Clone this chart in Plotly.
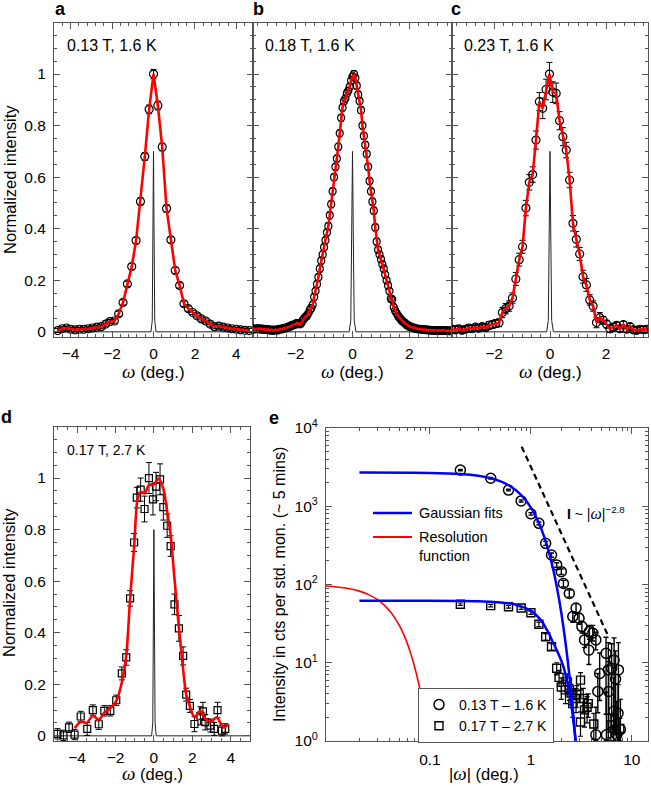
import plotly.graph_objects as go

W, H = 651, 786
def px(x): return x / W
def py(y): return 1 - y / H

FONT = "Liberation Sans, Arial, sans-serif"
AX = "#555555"

# ---------------- panel a (0.13 T, 1.6 K) ----------------
a_x = [-4.62, -4.41, -4.20, -3.99, -3.78, -3.57, -3.36, -3.15, -2.94, -2.73, -2.52, -2.31, -2.10, -1.89, -1.68,
       -1.47, -1.26, -1.05, -0.84, -0.63, -0.42, -0.21, 0.0, 0.21, 0.42, 0.63, 0.84, 1.05, 1.26, 1.47,
       1.68, 1.89, 2.10, 2.31, 2.52, 2.73, 2.94, 3.15, 3.36, 3.57, 3.78, 3.99, 4.20, 4.41, 4.62]
a_y = [0.005, 0.012, 0.015, 0.010, 0.008, 0.010, 0.010, 0.012, 0.015, 0.018, 0.020, 0.030, 0.040, 0.042, 0.070,
       0.114, 0.186, 0.253, 0.354, 0.506, 0.680, 0.863, 1.000, 0.878, 0.717, 0.478, 0.357, 0.238, 0.180, 0.109,
       0.090, 0.075, 0.062, 0.050, 0.042, 0.030, 0.020, 0.022, 0.018, 0.015, 0.012, 0.010, 0.008, 0.006, 0.005]
a_err = [0.008, 0.008, 0.008, 0.008, 0.008, 0.008, 0.008, 0.008, 0.008, 0.008, 0.008, 0.008, 0.008, 0.008, 0.010,
         0.010, 0.010, 0.012, 0.012, 0.014, 0.015, 0.017, 0.018, 0.017, 0.015, 0.014, 0.012, 0.012, 0.010, 0.010,
         0.010, 0.008, 0.008, 0.008, 0.008, 0.008, 0.008, 0.008, 0.008, 0.008, 0.008, 0.008, 0.008, 0.008, 0.008]

# ---------------- panel b (0.18 T, 1.6 K) ----------------
b_x = [-3.50, -3.45, -3.40, -3.35, -3.30, -3.25, -3.20, -3.15, -3.10, -3.05,
       -3.00, -2.95, -2.90, -2.85, -2.80, -2.75, -2.70, -2.65, -2.60, -2.55,
       -2.50, -2.45, -2.40, -2.35, -2.30, -2.25, -2.20, -2.15, -2.10, -2.05,
       -2.00, -1.95, -1.90, -1.85, -1.80, -1.75, -1.70, -1.65, -1.60, -1.55,
       -1.50, -1.45, -1.40, -1.35, -1.30, -1.25, -1.20, -1.15, -1.10, -1.05,
       -1.00, -0.95, -0.90, -0.85, -0.80, -0.75, -0.70, -0.65, -0.60, -0.55,
       -0.50, -0.45, -0.40, -0.35, -0.30, -0.25, -0.20, -0.15, -0.10, -0.05,
       0.00,
       0.05, 0.10, 0.15, 0.20, 0.25, 0.30, 0.35, 0.40, 0.45, 0.50,
       0.55, 0.60, 0.65, 0.70, 0.75, 0.80, 0.85, 0.90, 0.95, 1.00,
       1.05, 1.10, 1.15, 1.20, 1.25, 1.30, 1.35, 1.40, 1.45, 1.50,
       1.55, 1.60, 1.65, 1.70, 1.75, 1.80, 1.85, 1.90, 1.95, 2.00,
       2.05, 2.10, 2.15, 2.20, 2.25, 2.30, 2.35, 2.40, 2.45, 2.50,
       2.55, 2.60, 2.65, 2.70, 2.75, 2.80, 2.85, 2.90, 2.95, 3.00,
       3.05, 3.10, 3.15, 3.20, 3.25, 3.30, 3.35, 3.40, 3.45, 3.50]
b_y = [0.012, 0.010, 0.012, 0.011, 0.013, 0.010, 0.012, 0.009, 0.011, 0.008,
       0.010, 0.008, 0.006, 0.008, 0.005, 0.007, 0.008, 0.006, 0.009, 0.011,
       0.010, 0.013, 0.015, 0.014, 0.017, 0.019, 0.021, 0.024, 0.026, 0.028,
       0.030, 0.034, 0.032, 0.030, 0.034, 0.045, 0.052, 0.058, 0.063, 0.072,
       0.085, 0.092, 0.105, 0.135, 0.158, 0.185, 0.212, 0.245, 0.276, 0.300,
       0.328, 0.355, 0.385, 0.410, 0.452, 0.495, 0.545, 0.600, 0.640, 0.672,
       0.718, 0.770, 0.830, 0.870, 0.895, 0.905, 0.925, 0.935, 0.950, 0.975,
       0.990,
       1.000, 0.985, 0.955, 0.920, 0.895, 0.860, 0.800, 0.760, 0.725, 0.690,
       0.640, 0.585, 0.545, 0.505, 0.470, 0.405, 0.350, 0.318, 0.300, 0.282,
       0.262, 0.245, 0.222, 0.200, 0.180, 0.158, 0.128, 0.125, 0.095, 0.082,
       0.072, 0.062, 0.055, 0.048, 0.042, 0.038, 0.033, 0.028, 0.025, 0.021,
       0.019, 0.017, 0.015, 0.013, 0.012, 0.011, 0.010, 0.011, 0.009, 0.008,
       0.009, 0.007, 0.008, 0.006, 0.007, 0.006, 0.005, 0.006, 0.005, 0.006,
       0.004, 0.005, 0.006, 0.004, 0.005, 0.004, 0.005, 0.003, 0.004, 0.005]
b_err = 0.014

# ---------------- panel c (0.23 T, 1.6 K) ----------------
c_x = [-3.50, -3.38, -3.26, -3.14, -3.02, -2.90, -2.78, -2.66, -2.54, -2.42, -2.30, -2.18, -2.06, -1.94, -1.82,
       -1.70, -1.58, -1.46, -1.34, -1.22, -1.10, -0.98, -0.86, -0.74, -0.62, -0.50, -0.38, -0.26, -0.14, -0.02,
       0.10, 0.22, 0.34, 0.46, 0.58, 0.70, 0.82, 0.94, 1.06, 1.18, 1.30, 1.42, 1.54, 1.66, 1.78,
       1.90, 2.02, 2.14, 2.26, 2.38, 2.50, 2.62, 2.74, 2.86, 2.98, 3.10, 3.22, 3.34, 3.46]
c_y = [0.010, 0.008, 0.012, 0.006, 0.010, 0.015, 0.012, 0.018, 0.014, 0.020, 0.016, 0.025, 0.028, 0.032, 0.035,
       0.075, 0.090, 0.100, 0.131, 0.205, 0.280, 0.330, 0.480, 0.580, 0.610, 0.744, 0.893, 0.867, 0.940, 1.000,
       0.930, 0.925, 0.819, 0.757, 0.705, 0.589, 0.421, 0.359, 0.302, 0.214, 0.182, 0.124, 0.100, 0.036, 0.055,
       0.045, 0.030, 0.012, 0.018, 0.025, 0.012, 0.028, 0.010, 0.020, 0.008, 0.006, 0.010, 0.008, 0.010]
c_err = [0.012, 0.012, 0.012, 0.012, 0.012, 0.012, 0.012, 0.012, 0.012, 0.012, 0.012, 0.015, 0.015, 0.015, 0.015,
         0.020, 0.020, 0.020, 0.020, 0.025, 0.025, 0.025, 0.030, 0.030, 0.030, 0.035, 0.035, 0.040, 0.040, 0.045,
         0.040, 0.040, 0.035, 0.035, 0.030, 0.030, 0.030, 0.030, 0.025, 0.025, 0.025, 0.020, 0.020, 0.020, 0.020,
         0.015, 0.015, 0.015, 0.015, 0.012, 0.012, 0.012, 0.012, 0.012, 0.012, 0.012, 0.012, 0.012, 0.012]

# ---------------- panel d (0.17 T, 2.7 K) ----------------
d_x = [-5.02, -4.71, -4.42, -4.13, -3.81, -3.47, -3.18, -2.87, -2.58, -2.27, -1.96, -1.67, -1.44, -1.24, -1.03,
       -0.89, -0.69, -0.49, -0.26, -0.05, 0.11, 0.32, 0.49, 0.69, 0.87, 1.07, 1.30, 1.52, 1.68, 1.87,
       2.11, 2.42, 2.55, 2.67, 2.94, 3.14, 3.31, 3.54, 3.71]
d_y = [0.008, 0.002, 0.033, 0.005, 0.075, 0.027, 0.100, 0.045, 0.097, 0.097, 0.138, 0.242, 0.304, 0.533, 0.750,
       0.924, 0.955, 0.880, 1.000, 0.917, 0.967, 0.995, 0.887, 0.815, 0.736, 0.510, 0.417, 0.310, 0.160, 0.116,
       0.046, 0.078, 0.095, 0.053, 0.040, 0.027, 0.100, 0.020, 0.027]
d_err = [0.020, 0.020, 0.020, 0.020, 0.020, 0.025, 0.020, 0.020, 0.020, 0.020, 0.020, 0.025, 0.030, 0.030, 0.035,
         0.040, 0.045, 0.050, 0.060, 0.060, 0.055, 0.060, 0.050, 0.045, 0.040, 0.040, 0.050, 0.035, 0.025, 0.025,
         0.030, 0.035, 0.035, 0.030, 0.025, 0.025, 0.030, 0.020, 0.020]
d_fit_x = [-4.12, -3.81, -3.50, -3.18, -2.87, -2.58, -2.27, -1.96, -1.67, -1.44, -1.24, -1.03, -0.86, -0.69, -0.49,
           -0.26, -0.05, 0.26, 0.50, 0.69, 0.87, 1.07, 1.30, 1.52, 1.68, 1.91, 2.11, 2.42, 2.67, 2.96,
           3.27, 3.61, 3.90]
d_fit_y = [0.030, 0.055, 0.050, 0.078, 0.062, 0.090, 0.108, 0.135, 0.207, 0.310, 0.530, 0.735, 0.915, 0.947, 0.940,
           0.973, 0.973, 0.998, 0.955, 0.870, 0.780, 0.610, 0.420, 0.258, 0.160, 0.105, 0.072, 0.097, 0.066, 0.055,
           0.072, 0.033, 0.045]

# resolution function (normalized panels)
res_x = [-6.0, -0.12, -0.06, -0.03, 0.0, 0.03, 0.06, 0.12, 6.0]
res_y = [0.0, 0.0, 0.044, 0.35, 0.70, 0.35, 0.044, 0.0, 0.0]
res_d_y = [0.0, 0.0, 0.05, 0.40, 0.80, 0.40, 0.05, 0.0, 0.0]

# ---------------- panel e (log-log) ----------------
e_c_x = [0.2, 0.4, 0.6, 0.8, 1.0, 1.2, 1.4, 1.6, 1.8, 2.0, 2.1, 2.4, 2.6, 2.8, 3.0, 3.2, 3.4, 3.75, 3.8, 4.1,
         4.4, 4.4, 4.6, 4.8, 5.55, 5.6, 5.85, 5.9, 6.3, 6.67, 6.6, 6.9, 7.36, 7.3, 7.7, 7.1]
e_c_y = [2900, 2280, 1610, 1170, 800, 605, 336, 238, 178, 146, 103, 77, 39, 50, 37, 29, 19.6, 14.5, 25, 24,
         19.6, 1.2, 4.3, 7.3, 13.2, 1.2, 8.1, 4.3, 8.5, 10.8, 2.4, 6.2, 8.1, 2.26, 1.4, 1.2]
e_c_ep = [60, 50, 40, 35, 30, 25, 20, 15, 12, 12, 10, 8, 6, 7, 6, 5, 4, 7, 5, 6,
          5, 1.5, 3, 6, 8, 3, 10, 6, 9, 10, 4, 8, 10, 3, 2, 2]
e_c_em = [60, 50, 40, 35, 30, 25, 20, 15, 12, 12, 10, 8, 6, 7, 6, 5, 4, 5, 5, 5,
          5, 0.19, 2, 4, 11, 0.19, 7, 3, 7, 9.5, 1.4, 5, 7, 1.2, 0.4, 0.19]
e_s_x = [0.2, 0.4, 0.6, 0.8, 1.0, 1.2, 1.4, 1.6, 1.8, 1.9, 2.0, 2.2, 2.3, 2.4, 2.5, 2.6, 2.8, 2.85, 3.1, 3.1,
         3.3, 3.4, 3.6, 3.7, 4.2, 6.2, 7.0, 7.6]
e_s_y = [56, 53.7, 52, 50, 43.6, 31, 21.5, 16, 8.5, 6.5, 4.9, 4.5, 5.7, 4.5, 4.1, 3.0, 3.5, 3.9, 6.0, 1.75,
         3.5, 2.5, 2.7, 3.0, 1.65, 1.6, 1.4, 1.45]
e_s_err = [2, 2, 2, 2, 2, 2, 2, 1.5, 1.5, 1.5, 1.5, 1.5, 1.5, 1.2, 1.2, 1.0, 1.2, 1.2, 1.5, 0.6,
           1.2, 1.0, 1.0, 1.0, 0.6, 0.6, 0.5, 0.5]
fit_x = [0.02, 0.1, 0.2, 0.3, 0.4, 0.5, 0.6, 0.7, 0.8, 0.9, 1.0, 1.1, 1.2, 1.3, 1.4, 1.5, 1.6, 1.7, 1.8, 1.9,
         2.0, 2.1, 2.2, 2.3, 2.4, 2.5, 2.6, 2.7, 2.8]
fit_hi_y = [2690, 2662, 2581, 2452, 2281, 2079, 1856, 1623, 1391, 1167, 960, 773, 610, 471, 357, 264, 192, 137, 95, 65,
            43.5, 28.5, 18.3, 11.5, 7.1, 4.28, 2.53, 1.47, 0.83]
fit_lo_y = [62, 62, 61.5, 61, 60, 59, 57.5, 55.5, 52.5, 49.5, 46, 42, 37.5, 33, 28, 24, 20, 17, 14.5, 12.5,
            10.6, 8.9, 7.1, 5.5, 4.1, 3.0, 2.1, 1.4, 0.9]
res_e_x = [0.0093, 0.015, 0.02, 0.025, 0.03, 0.035, 0.04, 0.045, 0.05, 0.055, 0.06, 0.065, 0.07, 0.075, 0.08,
           0.085, 0.09, 0.095, 0.1]
res_e_y = [95.9, 89.6, 82.3, 73.7, 64.5, 55.0, 45.8, 37.2, 29.5, 22.9, 17.3, 12.7, 9.16, 6.43, 4.41,
           2.95, 1.92, 1.22, 0.76]
guide_x = [0.81, 5.77]
guide_y = [5770, 22.6]

fig = go.Figure()

def eb(arr, thick=1, width=3):
    return dict(type='data', array=arr, color='black', thickness=thick, width=width, visible=True)

def add_norm_panel(xa, ya, x, y, err, res_yv, fx=None, fy=None, symbol='circle-open', msize=8, spline=False):
    fig.add_trace(go.Scatter(x=res_x, y=res_yv, mode='lines', line=dict(color='#222222', width=1),
                             xaxis=xa, yaxis=ya, showlegend=False, hoverinfo='skip'))
    if isinstance(err, (int, float)):
        ey = dict(type='constant', value=err, color='black', thickness=1, width=2.5)
    else:
        ey = eb(err)
    fig.add_trace(go.Scatter(x=x, y=y, mode='markers', error_y=ey,
                             marker=dict(symbol=symbol, size=msize, color='black', line=dict(width=1.2, color='black')),
                             xaxis=xa, yaxis=ya, showlegend=False))
    lx = fx if fx is not None else x
    ly = fy if fy is not None else y
    fig.add_trace(go.Scatter(x=lx, y=ly, mode='lines',
                             line=dict(color='#ff0000', width=2.6, shape='spline' if spline else 'linear', smoothing=0.7),
                             xaxis=xa, yaxis=ya, showlegend=False))

add_norm_panel('x', 'y', a_x, a_y, a_err, res_y)
add_norm_panel('x2', 'y2', b_x, b_y, b_err, res_y, msize=7)
add_norm_panel('x3', 'y3', c_x, c_y, c_err, res_y)
add_norm_panel('x4', 'y4', d_x, d_y, d_err, res_d_y, fx=d_fit_x, fy=d_fit_y, symbol='square-open', msize=7, spline=True)

# panel e
fig.add_trace(go.Scatter(x=res_e_x, y=res_e_y, mode='lines', line=dict(color='#ff0000', width=1.6, shape='spline'),
                         xaxis='x5', yaxis='y5', showlegend=False))
fig.add_trace(go.Scatter(x=e_c_x, y=e_c_y, mode='markers', name='0.13 T \u2013 1.6 K',
                         error_y=dict(type='data', array=e_c_ep, arrayminus=e_c_em, color='black', thickness=1.4, width=2.5),
                         marker=dict(symbol='circle-open', size=10, color='black', line=dict(width=1.5, color='black')),
                         xaxis='x5', yaxis='y5', showlegend=True))
fig.add_trace(go.Scatter(x=e_s_x, y=e_s_y, mode='markers', name='0.17 T \u2013 2.7 K',
                         error_y=dict(type='data', array=e_s_err, color='black', thickness=1.2, width=2.5),
                         marker=dict(symbol='square-open', size=8, color='black', line=dict(width=1.4, color='black')),
                         xaxis='x5', yaxis='y5', showlegend=True))
fig.add_trace(go.Scatter(x=fit_x, y=fit_hi_y, mode='lines', line=dict(color='#0000ff', width=2.5, shape='spline'),
                         xaxis='x5', yaxis='y5', showlegend=False))
fig.add_trace(go.Scatter(x=fit_x, y=fit_lo_y, mode='lines', line=dict(color='#0000ff', width=2.5, shape='spline'),
                         xaxis='x5', yaxis='y5', showlegend=False))
fig.add_trace(go.Scatter(x=guide_x, y=guide_y, mode='lines', line=dict(color='black', width=2.2, dash='6px,4px'),
                         xaxis='x5', yaxis='y5', showlegend=False))

def ax(**kw):
    minor = kw.pop('minor', {})
    m = dict(ticks='inside', ticklen=3, tickcolor=AX, tickwidth=1, showgrid=False)
    m.update(minor)
    d = dict(showline=True, linecolor=AX, linewidth=1, mirror='ticks', ticks='inside', ticklen=6,
             tickwidth=1, tickcolor=AX, showgrid=False, zeroline=False, automargin=False,
             tickfont=dict(family=FONT, size=15.5, color='black'), minor=m)
    d.update(kw)
    return d

top_y = [py(337), py(23)]
bot_y = [py(741), py(427)]
ylin = dict(range=[-0.02, 1.198], tick0=0, dtick=0.2, minor=dict(tick0=0, dtick=0.05), ticklabelstandoff=4)

log_minor_x = [m * 10 ** e for e in (-2, -1, 0) for m in range(2, 10)]
log_minor_y = [m * 10 ** e for e in (0, 1, 2, 3) for m in range(2, 10)]

fig.update_layout(
    width=W, height=H, margin=dict(l=0, r=0, t=0, b=0, pad=0, autoexpand=False),
    paper_bgcolor='white', plot_bgcolor='white',
    font=dict(family=FONT, size=16, color='black'),
    xaxis=ax(domain=[px(54), px(253)], range=[-4.8, 4.8], tick0=0, dtick=2, minor=dict(tick0=0, dtick=0.4), anchor='y', ticklabelstandoff=2),
    yaxis=ax(domain=top_y, anchor='x', **ylin),
    xaxis2=ax(domain=[px(253), px(452)], range=[-3.5, 3.5], tick0=0, dtick=2, minor=dict(tick0=0, dtick=1/3), anchor='y2', ticklabelstandoff=2),
    yaxis2=ax(domain=top_y, anchor='x2', showticklabels=False, **ylin),
    xaxis3=ax(domain=[px(452), px(648)], range=[-3.5, 3.5], tick0=0, dtick=2, minor=dict(tick0=0, dtick=1/3), anchor='y3', ticklabelstandoff=2),
    yaxis3=ax(domain=top_y, anchor='x3', showticklabels=False, **ylin),
    xaxis4=ax(domain=[px(54), px(250)], range=[-5.2, 5.0], tick0=0, dtick=2, minor=dict(tick0=0, dtick=0.5), anchor='y4', ticklabelstandoff=2),
    yaxis4=ax(domain=bot_y, anchor='x4', **ylin),
    xaxis5=ax(domain=[px(326), px(648)], type='log', range=[-2.03, 1.16], tickmode='array',
              tickvals=[0.1, 1, 10], ticktext=['0.1', '1', '10'],
              minor=dict(tickmode='array', tickvals=log_minor_x), anchor='y5', ticklabelstandoff=4),
    yaxis5=ax(domain=[py(741), py(428)], type='log', range=[0, 4], tickmode='array',
              tickvals=[1, 10, 100, 1000, 10000],
              ticktext=['10<sup>0</sup>', '10<sup>1</sup>', '10<sup>2</sup>', '10<sup>3</sup>', '10<sup>4</sup>'],
              minor=dict(tickmode='array', tickvals=log_minor_y), anchor='x5', ticklabelstandoff=4),
    showlegend=True,
    legend=dict(x=px(418), y=py(688), xanchor='left', yanchor='top', bgcolor='white',
                bordercolor=AX, borderwidth=1, font=dict(family=FONT, size=14, color='black'),
                tracegroupgap=0, itemwidth=30),
)

OMEGA = '<span style="font-family:Liberation Serif;font-size:19px"><i>\u03c9</i></span>'

ann = []
def A(x, y, text, size=16, xanchor='center', yanchor='middle', angle=0, bold=False, align='center'):
    t = '<b>' + text + '</b>' if bold else text
    ann.append(dict(x=px(x), y=py(y), xref='paper', yref='paper', text=t, showarrow=False,
                    xanchor=xanchor, yanchor=yanchor, textangle=angle, align=align,
                    font=dict(family=FONT, size=size, color='black')))

# panel letters
A(60, 9, 'a', size=18, bold=True)
A(258, 9, 'b', size=18, bold=True)
A(456, 9, 'c', size=18, bold=True)
A(6, 417, 'd', size=18, bold=True)
A(274, 418, 'e', size=18, bold=True)
# in-panel labels
A(65, 45, '0.13 T, 1.6 K', size=16, xanchor='left')
A(263, 45, '0.18 T, 1.6 K', size=16, xanchor='left')
A(462, 45, '0.23 T, 1.6 K', size=16, xanchor='left')
A(65, 450, '0.17 T, 2.7 K', size=14, xanchor='left')
# axis titles
A(153.5, 371, OMEGA + ' (deg.)', size=17)
A(352.5, 371, OMEGA + ' (deg.)', size=17)
A(550, 371, OMEGA + ' (deg.)', size=17)
A(152, 773, OMEGA + ' (deg.)', size=16.5)
A(484, 773, '|' + OMEGA + '| (deg.)', size=16.5)
A(10, 180, 'Normalized intensity', size=16.5, angle=-90)
A(9, 583, 'Normalized intensity', size=16.5, angle=-90)
A(279, 585, 'Intensity in cts per std. mon. (~ 5 mins)', size=16, angle=-90)
# legend for lines in e
A(417, 513, 'Gaussian fits', size=14.5, xanchor='left')
A(417, 546, 'Resolution<br>function', size=14.5, xanchor='left', align='left')
# power-law label
A(565, 513, '<b>I</b> ~ |' + OMEGA.replace('19px', '16px') + '|<sup>\u22122.8</sup>', size=14, xanchor='left')

fig.update_layout(annotations=ann)
fig.update_layout(shapes=[
    dict(type='line', xref='paper', yref='paper', x0=px(373), x1=px(412), y0=py(513), y1=py(513),
         line=dict(color='#0000ff', width=2.5)),
    dict(type='line', xref='paper', yref='paper', x0=px(373), x1=px(412), y0=py(537), y1=py(537),
         line=dict(color='#ff0000', width=2)),
])

fig.write_html("out.html", config={'displayModeBar': False},
               post_script="document.body.style.margin='0px';document.body.style.overflow='hidden';")
